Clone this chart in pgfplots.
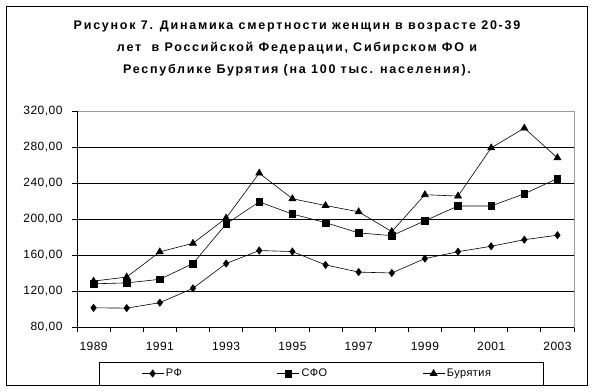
\documentclass[border=0pt]{standalone}
\usepackage{fontspec}
\setmainfont{Liberation Sans}
\newfontfamily\tickfont[LetterSpace=4]{Liberation Sans}
\newfontfamily\titlefont[LetterSpace=14]{Liberation Sans}
\usepackage{pgfplots}
\pgfplotsset{compat=1.18}
\begin{document}
\begin{tikzpicture}[x=1pt,y=1pt]
\useasboundingbox (0,0) rectangle (593,391);
\draw[black, line width=0.8pt] (6,6) rectangle (587,385);
\node[font=\titlefont\bfseries\fontsize{12.5}{14}\selectfont] at (297,365) {Рисунок 7. Динамика смертности женщин в возрасте 20-39};
\node[font=\titlefont\bfseries\fontsize{12.5}{14}\selectfont] at (297,343) {лет \ в Российской Федерации, Сибирском ФО и};
\node[font=\titlefont\bfseries\fontsize{12.5}{14}\selectfont] at (297,321) {Республике Бурятия (на 100 тыс. населения).};
\draw[black, line width=0.8pt] (99,6) rectangle (543,29);
\begin{axis}[
  at={(77pt,64pt)}, anchor=south west,
  scale only axis, width=497pt, height=216pt,
  xmin=1988.5, xmax=2003.5, ymin=80, ymax=320,
  xtick={1989,1991,...,2003},
  xticklabels={1989,1991,1993,1995,1997,1999,2001,2003},
  minor xtick={1988.5,1989.5,...,2003.5},
  ytick={80,120,...,320},
  yticklabel style={xshift=-6pt, /pgf/number format/.cd, fixed, fixed zerofill, precision=2, use comma, assume math mode=true},
  xticklabel style={yshift=-7pt},
  ticklabel style={font=\tickfont\fontsize{12}{14}\selectfont},
  major x tick style={draw=none},
  minor tick length=5pt, major tick length=5pt,
  tick align=outside, xtick pos=bottom, ytick pos=left,
  tick style={black, line width=0.8pt},
  ymajorgrids, major grid style={black, line width=0.8pt},
  axis line style={gray!80, line width=0.8pt},
  after end axis/.code={\draw[black, line width=0.8pt] (rel axis cs:0,1) -- (rel axis cs:0,0) -- (rel axis cs:1,0);},
  legend columns=3,
  legend style={draw=none, fill=none, at={(0.123,-0.2153)}, anchor=west,
    font=\tickfont\fontsize{11}{13}\selectfont,
    /tikz/every even column/.append style={column sep=93pt}},
  legend image code/.code={\draw[mark repeat=2,mark phase=2] plot coordinates {(0pt,0pt) (11pt,0pt) (22pt,0pt)};},
  every axis plot/.append style={black, line width=0.6pt, mark options={solid, fill=black}},
  clip=false,
]
\addplot[mark=diamond*, mark size=3.6pt] coordinates {
(1989,101.3) (1990,101) (1991,107) (1992,123) (1993,150.5) (1994,165) (1995,163.8)
(1996,149) (1997,141) (1998,140) (1999,156) (2000,163.7) (2001,169.7) (2002,177) (2003,182)};
\addplot[mark=square*, mark size=3.3pt] coordinates {
(1989,128) (1990,129) (1991,133) (1992,150.5) (1993,194.5) (1994,219) (1995,205.5)
(1996,196) (1997,184.5) (1998,181.5) (1999,198) (2000,214.5) (2001,214.5) (2002,228) (2003,245)};
\addplot[mark=triangle*, mark size=4pt] coordinates {
(1989,131) (1990,135.5) (1991,163.5) (1992,173) (1993,201) (1994,251) (1995,222.5)
(1996,215) (1997,208) (1998,186) (1999,227) (2000,225.5) (2001,279) (2002,301) (2003,268)};
\legend{РФ, СФО, Бурятия}
\end{axis}
\end{tikzpicture}
\end{document}
